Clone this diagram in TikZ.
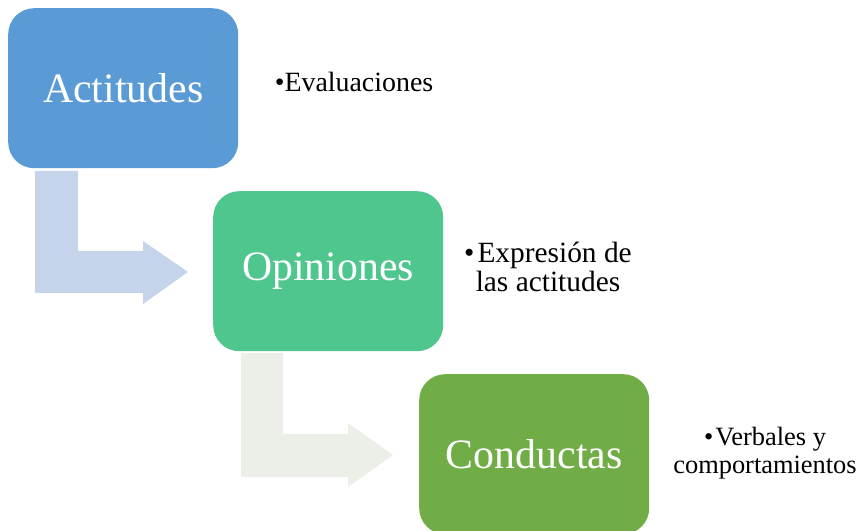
\documentclass[tikz,border=0pt]{standalone}
\usepackage{fontspec}
\setmainfont{Liberation Serif}
\definecolor{cA}{HTML}{5B9BD5}
\definecolor{cB}{HTML}{4FC68E}
\definecolor{cC}{HTML}{70AD47}
\definecolor{arrA}{HTML}{C5D4EB}
\definecolor{arrB}{HTML}{EBEFE7}
\begin{document}
\begin{tikzpicture}[x=1bp,y=-1bp,
  stagebox/.style={rounded corners=26bp, minimum width=230bp, minimum height=160bp,
    inner sep=0pt, text=white, font=\fontsize{42}{50}\selectfont, anchor=north west},
  note/.style={align=center, anchor=base, inner sep=0pt, text=black}]
\useasboundingbox (0,0) rectangle (859,531);
\clip (0,0) rectangle (859,531);
% bent arrows
\fill[arrA] (35,171) -- (78,171) -- (78,251) -- (143,251) -- (143,241) -- (188,272)
  -- (143,304) -- (143,293) -- (35,293) -- cycle;
\fill[arrB] (241,353) -- (283,353) -- (283,434) -- (348,434) -- (348,423) -- (393,455)
  -- (348,487) -- (348,477) -- (241,477) -- cycle;
% boxes
\node[stagebox, fill=cA] (act) at (8,8) {Actitudes};
\node[stagebox, fill=cB] (opi) at (213,191) {Opiniones};
\node[stagebox, fill=cC] (con) at (419,374) {Conductas};
% notes
\node[note, font=\fontsize{28}{30}\selectfont] (n1) at (354,92) {•Evaluaciones};
\node[note, font=\fontsize{29.5}{30}\selectfont] (n2) at (548,292) {•\hspace{3bp}Expresión de\\las actitudes};
\node[note, font=\fontsize{26.5}{28}\selectfont] (n3) at (765,473) {•\hspace{2bp}Verbales y\\comportamientos};
\end{tikzpicture}
\end{document}
